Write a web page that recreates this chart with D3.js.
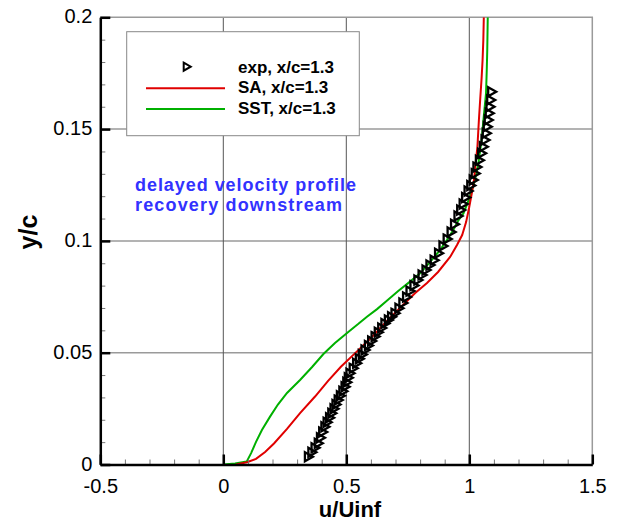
<!DOCTYPE html>
<html>
<head>
<meta charset="utf-8">
<script src="https://cdn.jsdelivr.net/npm/d3@7"></script>
<style>
body { margin: 0; background: #fff; }
svg { display: block; font-family: "Liberation Sans", Arial, Helvetica, sans-serif; }
</style>
</head>
<body>
<svg id="chart"></svg>
<script>
// experiment, x/c = 1.3 (u/Uinf, y/c)
const expU = [0.346, 0.360, 0.373, 0.386, 0.395, 0.404, 0.413, 0.422, 0.432, 0.441,
    0.450, 0.458, 0.467, 0.476, 0.486, 0.495, 0.502, 0.508, 0.515, 0.528,
    0.542, 0.553, 0.565, 0.576, 0.590, 0.603, 0.617, 0.630, 0.644, 0.657,
    0.671, 0.684, 0.698, 0.714, 0.730, 0.745, 0.759, 0.775, 0.791, 0.808,
    0.824, 0.840, 0.857, 0.875, 0.893, 0.910, 0.926, 0.940, 0.954, 0.965,
    0.975, 0.985, 0.995, 1.006, 1.016, 1.024, 1.031, 1.041, 1.050, 1.057,
    1.064, 1.069, 1.073, 1.077, 1.081, 1.084, 1.087, 1.091];
const expY = [0.0035, 0.0055, 0.0075, 0.0095, 0.0120, 0.0145, 0.0169, 0.0189, 0.0209, 0.0229,
    0.0249, 0.0268, 0.0288, 0.0308, 0.0328, 0.0348, 0.0368, 0.0388, 0.0408, 0.0430,
    0.0453, 0.0473, 0.0492, 0.0512, 0.0532, 0.0552, 0.0572, 0.0592, 0.0611, 0.0631,
    0.0646, 0.0661, 0.0676, 0.0699, 0.0722, 0.0749, 0.0776, 0.0800, 0.0825, 0.0848,
    0.0870, 0.0892, 0.0914, 0.0945, 0.0977, 0.1008, 0.1040, 0.1075, 0.1111, 0.1138,
    0.1165, 0.1194, 0.1223, 0.1248, 0.1272, 0.1301, 0.1330, 0.1361, 0.1392, 0.1421,
    0.1451, 0.1481, 0.1511, 0.1541, 0.1571, 0.1600, 0.1630, 0.1667];

// SA model
const saU = [0.052, 0.096, 0.133, 0.170, 0.206, 0.259, 0.312, 0.373, 0.426, 0.478,
    0.535, 0.596, 0.665, 0.718, 0.779, 0.828, 0.873, 0.922, 0.950, 0.971,
    0.987, 0.999, 1.010, 1.019, 1.025, 1.033, 1.039, 1.045, 1.050, 1.054,
    1.057, 1.059];
const saY = [0.0000, 0.0010, 0.0025, 0.0056, 0.0094, 0.0159, 0.0230, 0.0304, 0.0374, 0.0437,
    0.0497, 0.0561, 0.0642, 0.0700, 0.0766, 0.0812, 0.0861, 0.0928, 0.0982, 0.1026,
    0.1084, 0.1147, 0.1212, 0.1272, 0.1339, 0.1421, 0.1540, 0.1645, 0.1728, 0.1809,
    0.1898, 0.2000];

// SST model
const sstU = [0.000, 0.048, 0.095, 0.113, 0.133, 0.157, 0.190, 0.222, 0.259, 0.312,
    0.361, 0.407, 0.454, 0.508, 0.548, 0.584, 0.625, 0.666, 0.711, 0.759,
    0.800, 0.841, 0.881, 0.909, 0.935, 0.954, 0.976, 1.003, 1.023, 1.037,
    1.050, 1.060, 1.068, 1.071, 1.073, 1.075];
const sstY = [0.0000, 0.0004, 0.0013, 0.0051, 0.0101, 0.0154, 0.0214, 0.0268, 0.0320, 0.0378,
    0.0436, 0.0494, 0.0543, 0.0593, 0.0628, 0.0661, 0.0695, 0.0733, 0.0776, 0.0818,
    0.0855, 0.0906, 0.0959, 0.1004, 0.1049, 0.1089, 0.1123, 0.1198, 0.1272, 0.1347,
    0.1451, 0.1571, 0.1660, 0.1764, 0.1854, 0.2000];

const xTicks = [-0.5, 0, 0.5, 1, 1.5];
const yTicks = [0, 0.05, 0.1, 0.15, 0.2];
const xGrid = [0, 0.5, 1];
const yGrid = [0.05, 0.1, 0.15];
const legendLabels = ["exp, x/c=1.3", "SA, x/c=1.3", "SST, x/c=1.3"];
const noteLines = ["delayed velocity profile", "recovery downstream"];

const width = 620, height = 522;
const plotLeft = 100.3, plotRight = 592.3, plotTop = 17.3, plotBottom = 464.5;

const svg = d3.select("#chart")
    .attr("width", width)
    .attr("height", height);

const x = d3.scaleLinear().domain([-0.5, 1.5]).range([plotLeft, plotRight]);
const y = d3.scaleLinear().domain([0, 0.2]).range([plotBottom, plotTop]);

svg.append("defs").append("clipPath")
    .attr("id", "plot-clip")
    .append("rect")
    .attr("x", plotLeft).attr("y", plotTop)
    .attr("width", plotRight - plotLeft).attr("height", plotBottom - plotTop);

// grid
svg.append("g").selectAll("line")
    .data(yGrid)
    .join("line")
    .attr("x1", plotLeft).attr("x2", plotRight)
    .attr("y1", d => y(d)).attr("y2", d => y(d))
    .attr("stroke", "#9a9a9a")
    .attr("stroke-width", 1.5);

svg.append("g").selectAll("line")
    .data(xGrid)
    .join("line")
    .attr("x1", d => x(d)).attr("x2", d => x(d))
    .attr("y1", plotTop).attr("y2", plotBottom)
    .attr("stroke", "#555")
    .attr("stroke-width", 1);

// frame top / right
svg.append("path")
    .attr("d", `M${plotLeft},${plotTop}H${plotRight}V${plotBottom}`)
    .attr("fill", "none")
    .attr("stroke", "#9a9a9a")
    .attr("stroke-width", 1.5);

// model curves
const line = d3.line()
    .x(d => x(d[0]))
    .y(d => y(d[1]));

const curves = svg.append("g").attr("clip-path", "url(#plot-clip)");

curves.append("path")
    .datum(sstU.map((u, i) => [u, sstY[i]]))
    .attr("d", line)
    .attr("fill", "none")
    .attr("stroke", "#00b000")
    .attr("stroke-width", 2);

curves.append("path")
    .datum(saU.map((u, i) => [u, saY[i]]))
    .attr("d", line)
    .attr("fill", "none")
    .attr("stroke", "#e00000")
    .attr("stroke-width", 2);

// right pointing open triangles
const tri = "M-3.5,-4.5L4.5,0L-3.5,4.5Z";

svg.append("g").selectAll("path")
    .data(expU.map((u, i) => [u, expY[i]]))
    .join("path")
    .attr("d", tri)
    .attr("transform", d => `translate(${x(d[0])},${y(d[1])})`)
    .attr("fill", "none")
    .attr("stroke", "#000")
    .attr("stroke-width", 2.3);

// axes
const xMinor = d3.range(-5, 16).map(i => i / 10).filter(v => !xTicks.some(t => Math.abs(t - v) < 1e-9));
const yMinor = d3.range(0, 21).map(i => i / 100).filter(v => !yTicks.some(t => Math.abs(t - v) < 1e-9));

svg.append("g")
    .attr("transform", `translate(0,${plotBottom})`)
    .call(d3.axisBottom(x).tickValues(xMinor).tickSize(-5).tickFormat(""))
    .call(g => g.select(".domain").remove())
    .call(g => g.selectAll("line").attr("stroke", "#777").attr("stroke-width", 1));

svg.append("g")
    .attr("transform", `translate(${plotLeft},0)`)
    .call(d3.axisLeft(y).tickValues(yMinor).tickSize(-5).tickFormat(""))
    .call(g => g.select(".domain").remove())
    .call(g => g.selectAll("line").attr("stroke", "#777").attr("stroke-width", 1));

svg.append("g")
    .attr("transform", `translate(0,${plotBottom})`)
    .call(d3.axisBottom(x).tickValues(xTicks).tickSize(-10).tickSizeOuter(0).tickPadding(14).tickFormat(d => String(d)))
    .call(g => g.select(".domain").attr("stroke", "#000").attr("stroke-width", 2.5))
    .call(g => g.selectAll(".tick line").attr("stroke", "#000").attr("stroke-width", 2.5))
    .call(g => g.selectAll("text").attr("font-size", 20).attr("fill", "#000"));

svg.append("g")
    .attr("transform", `translate(${plotLeft},0)`)
    .call(d3.axisLeft(y).tickValues(yTicks).tickSize(-10).tickSizeOuter(0).tickPadding(8).tickFormat(d => String(d)))
    .call(g => g.select(".domain").attr("stroke", "#000").attr("stroke-width", 2.5))
    .call(g => g.selectAll(".tick line").attr("stroke", "#000").attr("stroke-width", 2.5))
    .call(g => g.selectAll("text").attr("font-size", 20).attr("fill", "#000").attr("dy", "0.28em"));

svg.selectAll(".tick text").attr("font-family", "Liberation Sans, Arial, sans-serif");

// axis titles
svg.append("text")
    .attr("x", 350)
    .attr("y", 517)
    .attr("text-anchor", "middle")
    .attr("font-size", 22)
    .attr("font-weight", "bold")
    .text("u/Uinf");

svg.append("text")
    .attr("transform", "translate(37,232) rotate(-90)")
    .attr("text-anchor", "middle")
    .attr("font-size", 25)
    .attr("font-weight", "bold")
    .text("y/c");

// legend
const legend = svg.append("g");

legend.append("rect")
    .attr("x", 126.7).attr("y", 31.7)
    .attr("width", 232.6).attr("height", 104)
    .attr("fill", "#fff")
    .attr("stroke", "#888")
    .attr("stroke-width", 1);

legend.append("path")
    .attr("d", "M-3,-4L4,0L-3,4Z")
    .attr("transform", "translate(186.7,66.7)")
    .attr("fill", "none")
    .attr("stroke", "#000")
    .attr("stroke-width", 2);

legend.selectAll("line")
    .data(["#e00000", "#00b000"])
    .join("line")
    .attr("x1", 146).attr("x2", 225)
    .attr("y1", (d, i) => 88.3 + i * 20.8)
    .attr("y2", (d, i) => 88.3 + i * 20.8)
    .attr("stroke", d => d)
    .attr("stroke-width", 2);

legend.selectAll("text")
    .data(legendLabels)
    .join("text")
    .attr("x", 238)
    .attr("y", (d, i) => 72.6 + i * 20.8)
    .attr("font-size", 17)
    .attr("font-weight", "bold")
    .text(d => d);

// annotation
svg.append("g").selectAll("text")
    .data(noteLines)
    .join("text")
    .attr("x", 135)
    .attr("y", (d, i) => 190.5 + i * 20.5)
    .attr("font-size", 18)
    .attr("font-weight", "bold")
    .attr("fill", "#3232ff")
    .attr("textLength", (d, i) => i === 0 ? 221 : 207)
    .attr("lengthAdjust", "spacing")
    .text(d => d);
</script>
</body>
</html>
